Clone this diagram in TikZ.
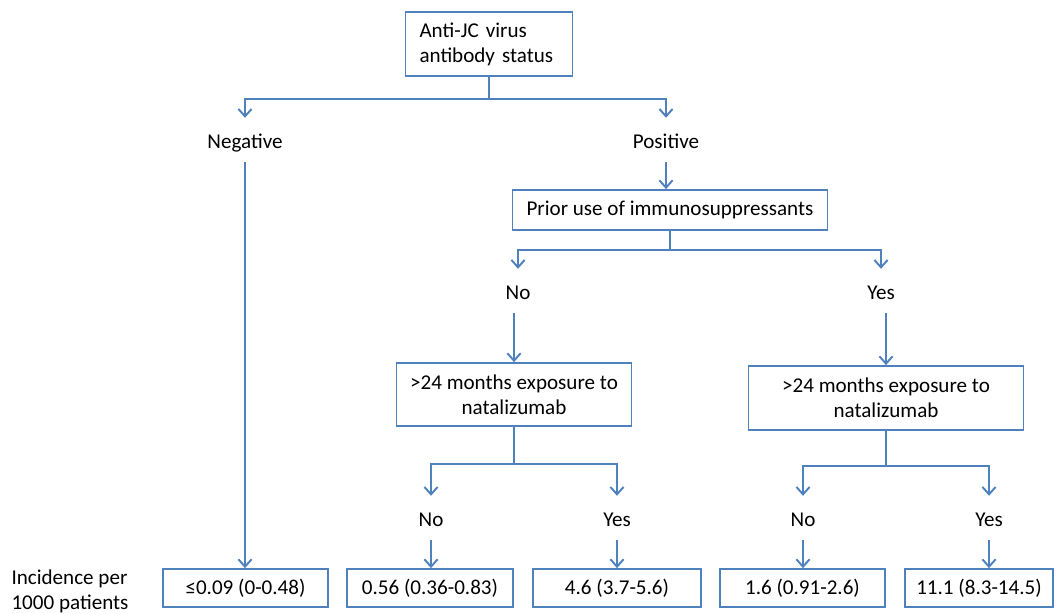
\documentclass[tikz,border=0pt]{standalone}
\usepackage{fontspec}
\setmainfont{Carlito}
\usetikzlibrary{arrows.meta}
\definecolor{jcblue}{RGB}{79,129,189}
\begin{document}
\begin{tikzpicture}[x=0.02cm,y=-0.02cm,
  font=\fontsize{12}{14.2}\selectfont,
  box/.style={draw=jcblue,line width=1pt,align=center,inner sep=0pt},
  lbl/.style={inner sep=0pt,text height=7pt,text depth=0pt,anchor=base},
  link/.style={draw=jcblue,line width=1.1pt,-{Straight Barb[length=4.2pt,width=7.5pt]}},
  tolbl/.style={shorten >=10pt},
  fromlbl/.style={shorten <=8pt}]
\useasboundingbox (0,0) rectangle (1060,613);

% Antibody status
\node[box,minimum width=3.34cm,minimum height=1.28cm,text width=2.78cm,align=left] (jcv) at (489,44) {Anti-JC virus\\antibody status};
\node[lbl] (neg) at (245,148) {Negative};
\node[lbl] (pos) at (666,148) {Positive};

% Immunosuppressants
\node[box,minimum width=6.3cm,minimum height=0.8cm] (prior) at (670,210) {Prior use of immunosuppressants};
\node[lbl] (isno) at (518,299) {No};
\node[lbl] (isyes) at (881,299) {Yes};

% Natalizumab exposure
\node[box,minimum width=4.7cm,minimum height=1.26cm] (expno) at (514,394.5) {>24 months exposure to\\natalizumab};
\node[box,minimum width=5.5cm,minimum height=1.28cm] (expyes) at (886,398) {>24 months exposure to\\natalizumab};
\node[lbl] (nono) at (431,526) {No};
\node[lbl] (noyes) at (617,526) {Yes};
\node[lbl] (yesno) at (803,526) {No};
\node[lbl] (yesyes) at (989,526) {Yes};

% Incidence
\node[align=left,inner sep=0pt] (inc) at (70,591) {Incidence per\\1000 patients};
\node[box,minimum width=3.3cm,minimum height=0.76cm] (risk1) at (245.5,588) {≤0.09 (0-0.48)};
\node[box,minimum width=3.32cm,minimum height=0.76cm] (risk2) at (430,588) {0.56 (0.36-0.83)};
\node[box,minimum width=3.36cm,minimum height=0.76cm] (risk3) at (617,588) {4.6 (3.7-5.6)};
\node[box,minimum width=3.3cm,minimum height=0.76cm] (risk4) at (802.5,588) {1.6 (0.91-2.6)};
\node[box,minimum width=2.96cm,minimum height=0.76cm] (risk5) at (979,588) {11.1 (8.3-14.5)};

% Branches
\draw[link,tolbl] (jcv.south) -- ++(0,22) -| (neg.north);
\draw[link,tolbl] (jcv.south) -- ++(0,22) -| (pos.north);
\draw[link,fromlbl] (pos.south) -- (pos.south |- prior.north);
\draw[link,fromlbl] (neg.south) -- (neg.south |- risk1.north);

\draw[link,tolbl] (prior.south) -- ++(0,19) -| (isno.north);
\draw[link,tolbl] (prior.south) -- ++(0,19) -| (isyes.north);
\draw[link,fromlbl] (isno.south -| expno) -- (expno.north);
\draw[link,fromlbl] (isyes.south -| expyes) -- (expyes.north);

\draw[link,tolbl] (expno.south) -- ++(0,37) -| (nono.north);
\draw[link,tolbl] (expno.south) -- ++(0,37) -| (noyes.north);
\draw[link,tolbl] (expyes.south) -- ++(0,35) -| (yesno.north);
\draw[link,tolbl] (expyes.south) -- ++(0,35) -| (yesyes.north);

\draw[link,fromlbl] (nono.south) -- (nono.south |- risk2.north);
\draw[link,fromlbl] (noyes.south) -- (noyes.south |- risk3.north);
\draw[link,fromlbl] (yesno.south) -- (yesno.south |- risk4.north);
\draw[link,fromlbl] (yesyes.south) -- (yesyes.south |- risk5.north);

\end{tikzpicture}
\end{document}
